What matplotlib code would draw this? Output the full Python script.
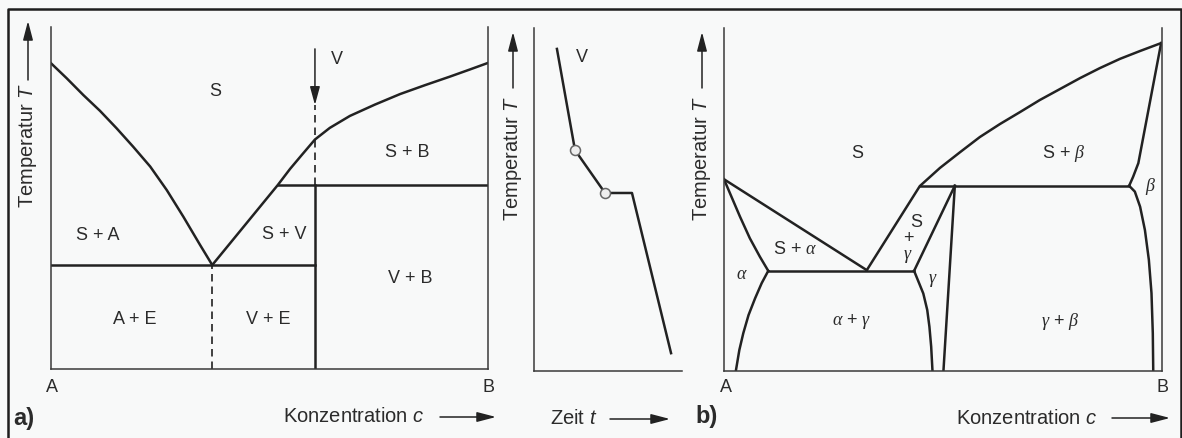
import matplotlib

matplotlib.use("Agg")
import matplotlib.pyplot as plt
from matplotlib.lines import Line2D
from matplotlib.patches import FancyArrowPatch

# Canvas size in pixels (dpi 100)
W, H = 1182, 438
BG = "#f8f9f9"
INK = "#222222"
TXT = "#2b2b2b"

plt.rcParams.update(
    {
        "font.family": "Liberation Sans",
        "mathtext.fontset": "custom",
        "mathtext.rm": "Liberation Sans",
        "mathtext.it": "Liberation Serif:italic",
        "mathtext.sf": "Liberation Sans:italic",
        "figure.facecolor": BG,
        "axes.facecolor": BG,
        "savefig.facecolor": BG,
        "text.color": TXT,
    }
)

# --- a) eutectic system with peritectic compound V (concentration %, temperature %) ---
a_liq_left_c = [0, 3.6, 7.4, 11.2, 15.0, 18.8, 22.7, 26.5, 30.3, 34.1, 36.9]
a_liq_left_T = [89.4, 85.0, 80.1, 75.5, 70.4, 65.0, 59.2, 52.3, 44.5, 36.3, 30.4]
a_liq_right_c = [36.9, 51.9, 54.7, 57.4, 60.4, 63.8, 68.4, 74.1, 79.9, 85.6, 91.3, 95.9, 100]
a_liq_right_T = [30.4, 53.8, 58.5, 62.6, 67.1, 70.5, 74.0, 77.3, 80.4, 83.0, 85.5, 87.6, 89.5]
a_eut_c, a_eut_T = 36.9, 30.4
a_per_c, a_per_T = 51.9, 53.8
a_comp_c = 60.4
a_arrow_T = [93.6, 77.2]
a_labels = ["S", "V", "S + B", "S + A", "S + V", "V + B", "A + E", "V + E"]
a_label_c = [37.5, 65.4, 81.5, 10.8, 53.3, 82.2, 19.2, 49.7]
a_label_T = [81.0, 90.4, 63.2, 38.9, 39.2, 26.6, 14.6, 14.6]

# --- cooling curve of alloy V (time %, temperature %) ---
cool_t = [15.5, 27.7, 48.0, 66.2, 92.6]
cool_T = [93.9, 64.4, 51.9, 51.9, 5.2]
cool_breaks = [1, 2]

# --- b) system with eutectic and peritectic, solid solutions alpha, gamma, beta ---
b_liq_left_c = [0, 32.6]
b_liq_left_T = [55.9, 29.4]
b_sol_alpha_c = [0, 1.37, 3.65, 5.9, 8.2, 10.1]
b_sol_alpha_T = [55.9, 51.8, 45.0, 38.7, 33.3, 29.2]
b_solv_alpha_c = [10.1, 8.6, 7.1, 5.6, 4.4, 3.5, 2.7]
b_solv_alpha_T = [29.2, 25.6, 21.2, 16.3, 11.0, 6.1, 0]
b_liq_right_c = [32.6, 44.7, 49.3, 53.9, 58.4, 63.0, 67.6, 72.1, 76.7, 81.3, 85.8, 90.4, 95.0, 99.8]
b_liq_right_T = [29.4, 53.9, 59.2, 63.8, 68.2, 72.0, 75.5, 79.0, 82.2, 85.4, 88.3, 91.0, 93.3, 95.6]
b_eut_T = 29.2
b_eut_c = [10.1, 43.4]
b_per_T = 54.0
b_per_c = [44.7, 92.5]
b_sol_gamma_c = [43.4, 52.7]
b_sol_gamma_T = [29.2, 54.0]
b_gamma_right_c = [52.7, 50.1]
b_gamma_right_T = [54.0, 0]
b_solv_gamma_c = [43.4, 45.5, 46.4, 46.9, 47.3, 47.6]
b_solv_gamma_T = [29.2, 22.6, 17.8, 12.9, 7.1, 0]
b_beta_c = [99.8, 94.6, 93.4, 92.5]
b_beta_T = [95.6, 60.6, 56.6, 54.0]
b_solv_beta_c = [92.5, 93.8, 95.0, 96.1, 97.0, 97.6, 97.9, 98.0]
b_solv_beta_T = [54.0, 52.3, 47.9, 41.1, 32.4, 22.7, 11.0, 0]
b_labels = ["S", r"S + $\beta$", r"$\beta$", r"S + $\alpha$", "S", "+", r"$\gamma$",
            r"$\alpha$", r"$\gamma$", r"$\alpha$ + $\gamma$", r"$\gamma$ + $\beta$"]
b_label_c = [30.3, 77.5, 97.3, 16.2, 43.8, 42.1, 41.9, 4.0, 47.6, 29.1, 76.7]
b_label_T = [63.5, 63.5, 53.7, 35.3, 43.2, 38.7, 33.3, 28.0, 26.5, 14.4, 14.4]

LW = 1.8
DASH = (0, (4.5, 3))
LABEL_FS = 13


def px_axes(fig, x0, x1, ytop, ybot):
    ax = fig.add_axes([x0 / W, 1 - ybot / H, (x1 - x0) / W, (ybot - ytop) / H])
    ax.set_xlim(0, 100)
    ax.set_ylim(0, 100)
    ax.set_xticks([])
    ax.set_yticks([])
    ax.spines["top"].set_visible(False)
    for s in ax.spines.values():
        s.set_linewidth(1.1)
        s.set_color("#3a3a3a")
    return ax


def fig_arrow(fig, x0, y0, x1, y1):
    fig.add_artist(
        FancyArrowPatch(
            (x0 / W, 1 - y0 / H), (x1 / W, 1 - y1 / H),
            transform=fig.transFigure,
            arrowstyle="-|>,head_length=1.15,head_width=0.3",
            mutation_scale=10, lw=1.1, color=INK, shrinkA=0, shrinkB=0,
        )
    )


def temp_label(fig, x, yc, ytail, ytip):
    fig.text(x / W, 1 - yc / H, r"Temperatur $\mathsf{T}$", rotation=90,
             ha="center", va="center", fontsize=14.5)
    fig_arrow(fig, x, ytail, x, ytip)


def conc_label(fig, xc, y, x0, x1, text=r"Konzentration $\mathsf{c}$"):
    fig.text(xc / W, 1 - y / H, text, ha="center", va="center", fontsize=14.5)
    fig_arrow(fig, x0, y, x1, y)


fig = plt.figure(figsize=(W / 100, H / 100), dpi=100)

# outer frame
fig.add_artist(Line2D([8 / W, 8 / W, 1181 / W, 1181 / W], [0, 1 - 9 / H, 1 - 9 / H, 0],
                      transform=fig.transFigure, color="#1e1e1e", lw=1.8))

# ---------- a) ----------
ax = px_axes(fig, 51, 488, 27, 369)
ax.plot(a_liq_left_c, a_liq_left_T, color=INK, lw=LW)
ax.plot(a_liq_right_c, a_liq_right_T, color=INK, lw=LW)
ax.plot([0, a_comp_c], [a_eut_T, a_eut_T], color=INK, lw=LW)
ax.plot([a_per_c, 100], [a_per_T, a_per_T], color=INK, lw=LW)
ax.plot([a_comp_c, a_comp_c], [0, a_per_T], color=INK, lw=LW)
ax.plot([a_comp_c, a_comp_c], [a_per_T, a_arrow_T[1]], color=INK, lw=1.2, ls=DASH)
ax.plot([a_eut_c, a_eut_c], [0, a_eut_T], color=INK, lw=1.2, ls=DASH)
ax.annotate("", xy=(a_comp_c, a_arrow_T[1]), xytext=(a_comp_c, a_arrow_T[0]),
            arrowprops=dict(arrowstyle="-|>,head_length=1.1,head_width=0.3",
                            mutation_scale=10, lw=1.1, color=INK, shrinkA=0, shrinkB=0))
for lab, c, t in zip(a_labels, a_label_c, a_label_T):
    ax.text(c, t, lab, ha="center", va="center", fontsize=LABEL_FS)
temp_label(fig, 28, 145, 80, 21)
fig.text(52 / W, 1 - 388 / H, "A", ha="center", va="center", fontsize=LABEL_FS)
fig.text(488 / W, 1 - 388 / H, "B", ha="center", va="center", fontsize=LABEL_FS)
fig.text(13 / W, 1 - 419 / H, "a)", ha="left", va="center", fontsize=17, fontweight="bold")
conc_label(fig, 354, 417, 440, 496)

# ---------- cooling curve ----------
ax = px_axes(fig, 534, 682, 28, 371)
ax.spines["right"].set_visible(False)
ax.plot(cool_t, cool_T, color=INK, lw=LW)
ax.plot([cool_t[i] for i in cool_breaks], [cool_T[i] for i in cool_breaks], "o",
        ms=7.2, mfc="#eeeeee", mec="#666666", mew=1.1)
ax.text(32.4, 91.3, "V", ha="center", va="center", fontsize=LABEL_FS)
temp_label(fig, 513, 158, 88, 32)
conc_label(fig, 574, 419, 610, 670, text=r"Zeit $\mathsf{t}$")

# ---------- b) ----------
ax = px_axes(fig, 724, 1162, 28, 371)
for c, t in [
    (b_liq_left_c, b_liq_left_T),
    (b_sol_alpha_c, b_sol_alpha_T),
    (b_solv_alpha_c, b_solv_alpha_T),
    (b_liq_right_c, b_liq_right_T),
    (b_eut_c, [b_eut_T, b_eut_T]),
    (b_per_c, [b_per_T, b_per_T]),
    (b_sol_gamma_c, b_sol_gamma_T),
    (b_gamma_right_c, b_gamma_right_T),
    (b_solv_gamma_c, b_solv_gamma_T),
    (b_beta_c, b_beta_T),
    (b_solv_beta_c, b_solv_beta_T),
]:
    ax.plot(c, t, color=INK, lw=LW, solid_joinstyle="round")
for lab, c, t in zip(b_labels, b_label_c, b_label_T):
    ax.text(c, t, lab, ha="center", va="center", fontsize=LABEL_FS)
temp_label(fig, 702, 158, 88, 32)
fig.text(726 / W, 1 - 388 / H, "A", ha="center", va="center", fontsize=LABEL_FS)
fig.text(1162 / W, 1 - 388 / H, "B", ha="center", va="center", fontsize=LABEL_FS)
fig.text(695 / W, 1 - 417 / H, "b)", ha="left", va="center", fontsize=17, fontweight="bold")
conc_label(fig, 1027, 418, 1112, 1170)

fig.savefig("out.png", dpi=100)
